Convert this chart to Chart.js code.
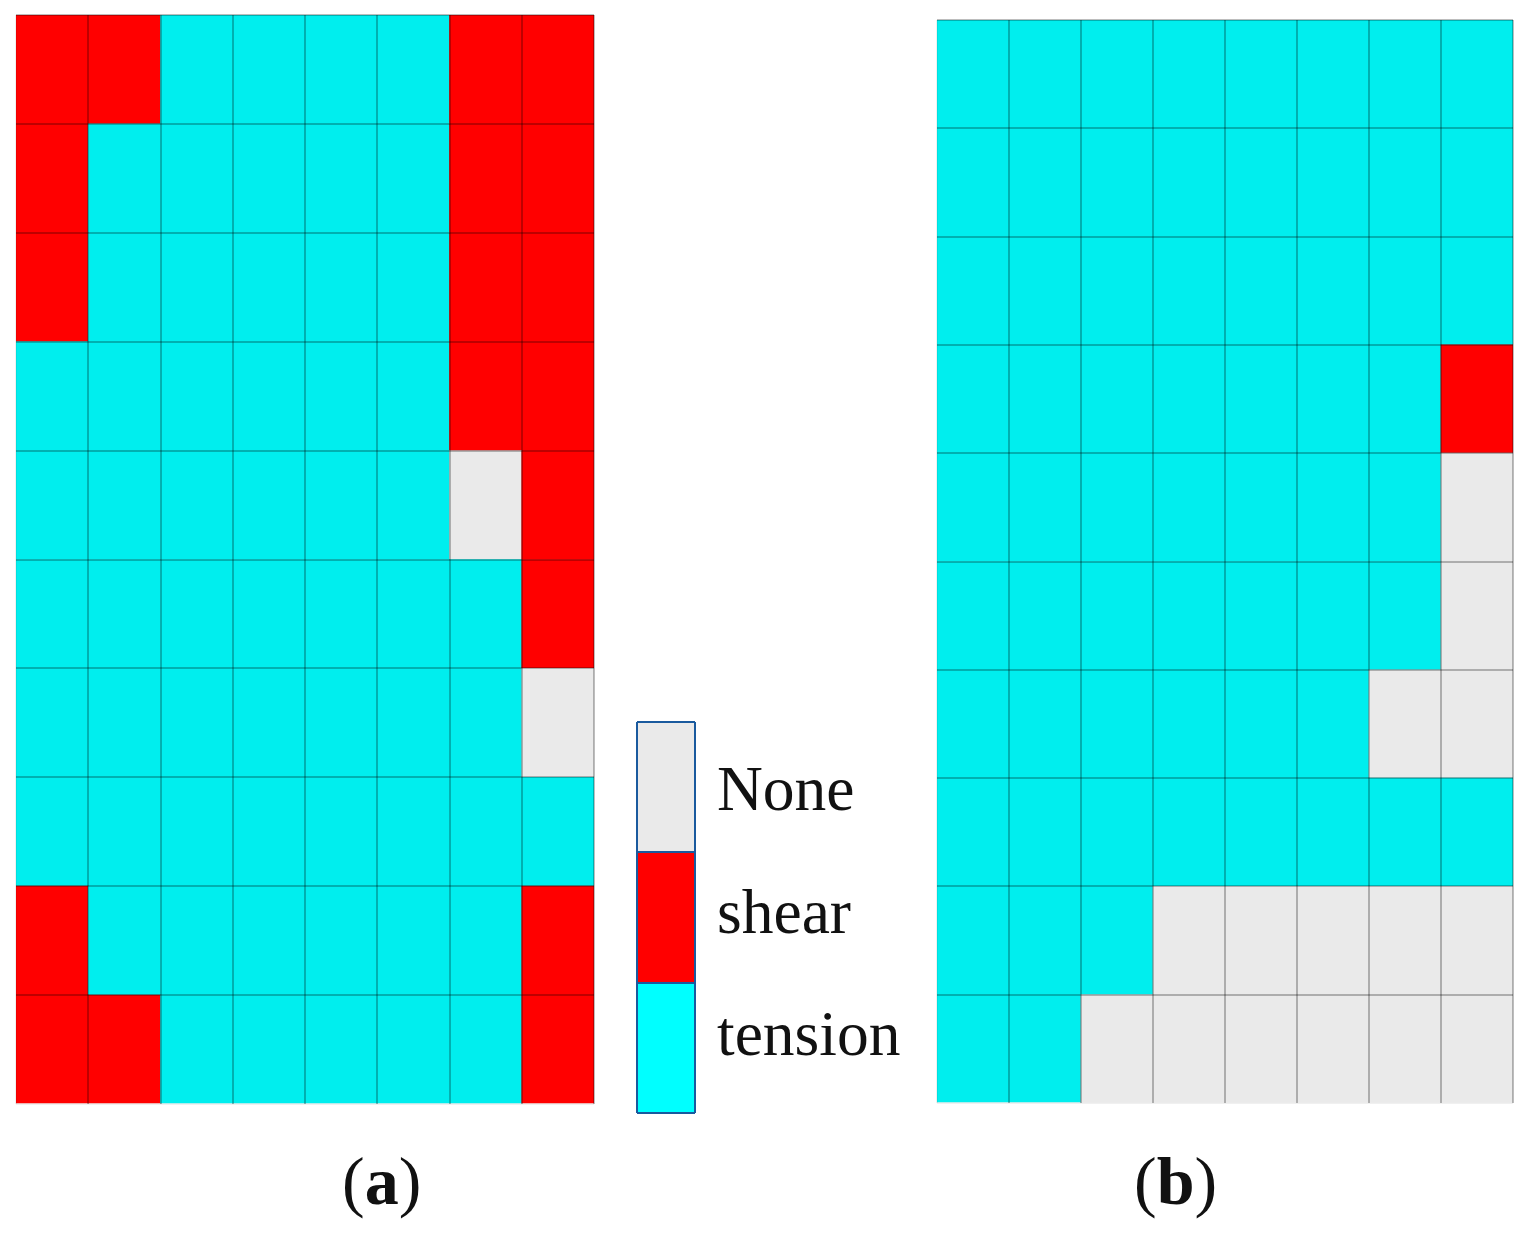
<!DOCTYPE html>
<html>
<head>
<meta charset="utf-8">
<style>
    html, body { margin: 0; padding: 0; background: #fff; }
    body { width: 1528px; height: 1233px; overflow: hidden; position: relative; font-family: "Liberation Serif", serif; color: #000; }
    canvas { position: absolute; }
    .label { position: absolute; font-size: 63.5px; line-height: 70px; white-space: nowrap; color: #111; }
    .panel { font-size: 68px; line-height: 76px; }
</style>
<script src="https://cdn.jsdelivr.net/npm/chart.js@4/dist/chart.umd.min.js"></script>
</head>
<body>
<canvas id="chartA" style="left:14px;top:13px" width="582" height="1093"></canvas>
<canvas id="chartB" style="left:935px;top:18px" width="580" height="1087"></canvas>
<canvas id="chartLegend" style="left:635px;top:720px" width="62" height="395"></canvas>

<div class="label" style="left:717px;top:754px">None</div>
<div class="label" style="left:717px;top:877px">shear</div>
<div class="label" style="left:717px;top:999px">tension</div>
<div class="label panel" style="left:342px;top:1143px">(<b>a</b>)</div>
<div class="label panel" style="left:1134px;top:1143px">(<b>b</b>)</div>

<script>
const columns = ['1', '2', '3', '4', '5', '6', '7', '8'];

// failure state of each cell, top row first: T tension, S shear, N none
const panelARows = [
    ['S', 'S', 'T', 'T', 'T', 'T', 'S', 'S'],
    ['S', 'T', 'T', 'T', 'T', 'T', 'S', 'S'],
    ['S', 'T', 'T', 'T', 'T', 'T', 'S', 'S'],
    ['T', 'T', 'T', 'T', 'T', 'T', 'S', 'S'],
    ['T', 'T', 'T', 'T', 'T', 'T', 'N', 'S'],
    ['T', 'T', 'T', 'T', 'T', 'T', 'T', 'S'],
    ['T', 'T', 'T', 'T', 'T', 'T', 'T', 'N'],
    ['T', 'T', 'T', 'T', 'T', 'T', 'T', 'T'],
    ['S', 'T', 'T', 'T', 'T', 'T', 'T', 'S'],
    ['S', 'S', 'T', 'T', 'T', 'T', 'T', 'S']
];
const panelBRows = [
    ['T', 'T', 'T', 'T', 'T', 'T', 'T', 'T'],
    ['T', 'T', 'T', 'T', 'T', 'T', 'T', 'T'],
    ['T', 'T', 'T', 'T', 'T', 'T', 'T', 'T'],
    ['T', 'T', 'T', 'T', 'T', 'T', 'T', 'S'],
    ['T', 'T', 'T', 'T', 'T', 'T', 'T', 'N'],
    ['T', 'T', 'T', 'T', 'T', 'T', 'T', 'N'],
    ['T', 'T', 'T', 'T', 'T', 'T', 'N', 'N'],
    ['T', 'T', 'T', 'T', 'T', 'T', 'T', 'T'],
    ['T', 'T', 'T', 'N', 'N', 'N', 'N', 'N'],
    ['T', 'T', 'N', 'N', 'N', 'N', 'N', 'N']
];
const legendStates = ['tension', 'shear', 'None'];

const cellColors = { T: '#00EEEE', S: '#FF0000', N: '#EAEAEA' };
const legendColors = { tension: '#00FFFF', shear: '#FF0000', None: '#EAEAEA' };

function hiddenAxis(extra) {
    return Object.assign({
        stacked: true,
        border: { display: false },
        ticks: { display: false }
    }, extra);
}

function GridChart(canvas, rows) {
    // inner lines only, the outer edge of the mesh is barely visible
    const meshColor = ctx => {
        const last = ctx.chart.scales[ctx.scale.axis].ticks.length;
        return ctx.index === 0 || ctx.index >= last ? 'rgba(0, 0, 0, 0.06)' : 'rgba(0, 0, 0, 0.26)';
    };
    const grid = { z: 1, color: meshColor, lineWidth: 2, drawTicks: false };

    new Chart(canvas, {
        type: 'bar',
        data: {
            labels: columns,
            // stacked from the bottom so the last row goes first
            datasets: rows.slice().reverse().map(row => {
                return {
                    data: row.map(() => 1),
                    backgroundColor: row.map(state => cellColors[state]),
                    barPercentage: 1,
                    categoryPercentage: 1
                };
            })
        },
        options: {
            responsive: false,
            animation: false,
            layout: { padding: 2 },
            plugins: { legend: { display: false }, tooltip: { enabled: false } },
            scales: {
                x: hiddenAxis({ grid: grid }),
                y: hiddenAxis({ min: 0, max: rows.length, grid: grid, ticks: { display: false, stepSize: 1 } })
            }
        }
    });
}

function LegendChart(canvas) {
    const grid = { z: 1, color: '#1A5A9E', lineWidth: 2, drawTicks: false };

    new Chart(canvas, {
        type: 'bar',
        data: {
            labels: ['state'],
            datasets: legendStates.map(state => {
                return {
                    label: state,
                    data: [1],
                    backgroundColor: legendColors[state],
                    barPercentage: 1,
                    categoryPercentage: 1
                };
            })
        },
        options: {
            responsive: false,
            animation: false,
            layout: { padding: 2 },
            plugins: { legend: { display: false }, tooltip: { enabled: false } },
            scales: {
                x: hiddenAxis({ grid: grid }),
                y: hiddenAxis({ min: 0, max: legendStates.length, grid: grid, ticks: { display: false, stepSize: 1 } })
            }
        }
    });
}

GridChart(document.getElementById('chartA'), panelARows);
GridChart(document.getElementById('chartB'), panelBRows);
LegendChart(document.getElementById('chartLegend'));
</script>
</body>
</html>
